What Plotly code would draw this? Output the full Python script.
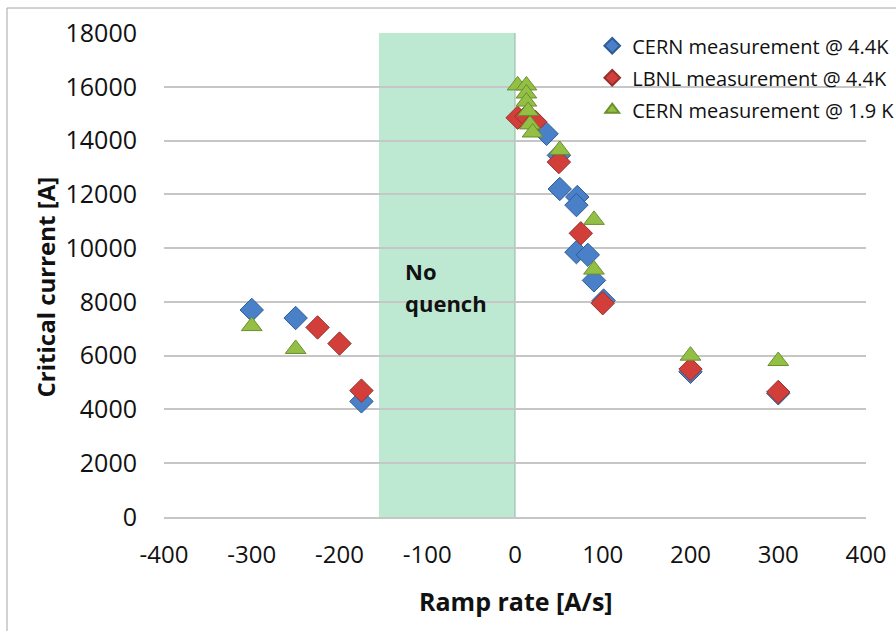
import plotly.graph_objects as go

# Critical current versus ramp rate for three measurement campaigns
cern44_rate = [-300, -250, -175, 36, 50, 51, 71, 70, 70, 83, 90, 101, 200, 300]
cern44_current = [7700, 7400, 4300, 14250, 13450, 12200, 11900, 11600, 9850, 9750, 8800, 8050, 5400, 4600]

lbnl44_rate = [-225, -200, -175, 3, 13, 23, 50, 75, 100, 200, 300]
lbnl44_current = [7050, 6450, 4700, 14850, 14900, 14700, 13200, 10550, 7950, 5500, 4650]

cern19_rate = [-300, -250, 3, 13, 13, 13, 15, 17, 20, 51, 90, 90, 200, 300]
cern19_current = [7100, 6250, 16050, 16050, 15750, 15450, 15100, 14600, 14300, 13650, 11050, 9200, 6000, 5800]

# Ramp-rate band in which no quench occurred
no_quench_band = [-155, 0]

x_ticks = [-400, -300, -200, -100, 0, 100, 200, 300, 400]
x_tick_text = ["-400", "-300", "-200", "-100", "0", "100", "200", "300", "400"]
y_ticks = [0, 2000, 4000, 6000, 8000, 10000, 12000, 14000, 16000, 18000]
y_tick_text = ["0", "2000", "4000", "6000", "8000", "10000", "12000", "14000", "16000", "18000"]

FONT = "Open Sans"

fig = go.Figure()

fig.add_shape(type="rect", xref="x", yref="y",
              x0=no_quench_band[0], x1=no_quench_band[1], y0=0, y1=18000,
              fillcolor="#bde9d3", line=dict(width=0), layer="below")
fig.add_shape(type="line", xref="x", yref="y",
              x0=no_quench_band[1], x1=no_quench_band[1], y0=0, y1=18000,
              line=dict(color="#9fbfae", width=1.2), layer="below")

series = [
    ("CERN measurement @ 4.4K", cern44_rate, cern44_current, "diamond", 18, "#4a80c8", "#2d5c96"),
    ("LBNL measurement @ 4.4K", lbnl44_rate, lbnl44_current, "diamond", 18, "#d23f3b", "#97302d"),
    ("CERN measurement @ 1.9 K", cern19_rate, cern19_current, "triangle-up", 18, "#93bf45", "#6a8f2c"),
]
for i, (name, xs, ys, sym, size, fill, edge) in enumerate(series):
    fig.add_trace(go.Scatter(
        x=xs, y=ys, mode="markers", name=name, legendgroup=f"g{i}",
        marker=dict(symbol=sym, size=size, color=fill, line=dict(color=edge, width=1)),
    ))

fig.add_annotation(x=-128, y=9150, xref="x", yref="y", text="<b>No</b>",
                   showarrow=False, xanchor="left", yanchor="middle",
                   font=dict(family=FONT, size=22, color="#111"))
fig.add_annotation(x=-128, y=7950, xref="x", yref="y", text="<b>quench</b>",
                   showarrow=False, xanchor="left", yanchor="middle",
                   font=dict(family=FONT, size=22, color="#111"))

# Axis titles
fig.add_annotation(x=-0.169, y=0.475, xref="paper", yref="paper",
                   text="<b>Critical current [A]</b>", textangle=-90, showarrow=False,
                   xanchor="center", yanchor="middle",
                   font=dict(family=FONT, size=24, color="#111"))
fig.add_annotation(x=0.501, y=-0.174, xref="paper", yref="paper",
                   text="<b>Ramp rate [A/s]</b>", showarrow=False,
                   xanchor="center", yanchor="middle",
                   font=dict(family=FONT, size=25, color="#111"))

# Outer chart frame
fig.add_shape(type="rect", xref="paper", yref="paper",
              x0=(7 - 164) / 702, x1=1.2, y0=-0.3, y1=(517 - 8) / 484,
              line=dict(color="#a6a6a6", width=1), fillcolor="rgba(0,0,0,0)")

fig.update_layout(
    width=896, height=631,
    margin=dict(l=164, r=30, t=33, b=114, autoexpand=False),
    paper_bgcolor="white", plot_bgcolor="white",
    font=dict(family=FONT, size=24, color="#111"),
    showlegend=True,
    legend=dict(x=0.61, y=1.014, xanchor="left", yanchor="top",
                font=dict(family=FONT, size=20, color="#111"),
                bgcolor="rgba(255,255,255,0)", itemsizing="constant",
                tracegroupgap=3),
    xaxis=dict(range=[-400, 400], tickvals=x_ticks, ticktext=x_tick_text,
               showgrid=False, zeroline=False,
               showline=True, linecolor="#c6c6c6", linewidth=1.5,
               ticks="", ticklabelstandoff=15, tickfont=dict(size=24)),
    yaxis=dict(range=[0, 18000], tickvals=y_ticks, ticktext=y_tick_text,
               showgrid=True, gridcolor="#c6c6c6",
               gridwidth=1.5, zeroline=False, showline=False,
               ticks="", ticklabelstandoff=26, tickfont=dict(size=25)),
)

fig.write_html("out.html")
